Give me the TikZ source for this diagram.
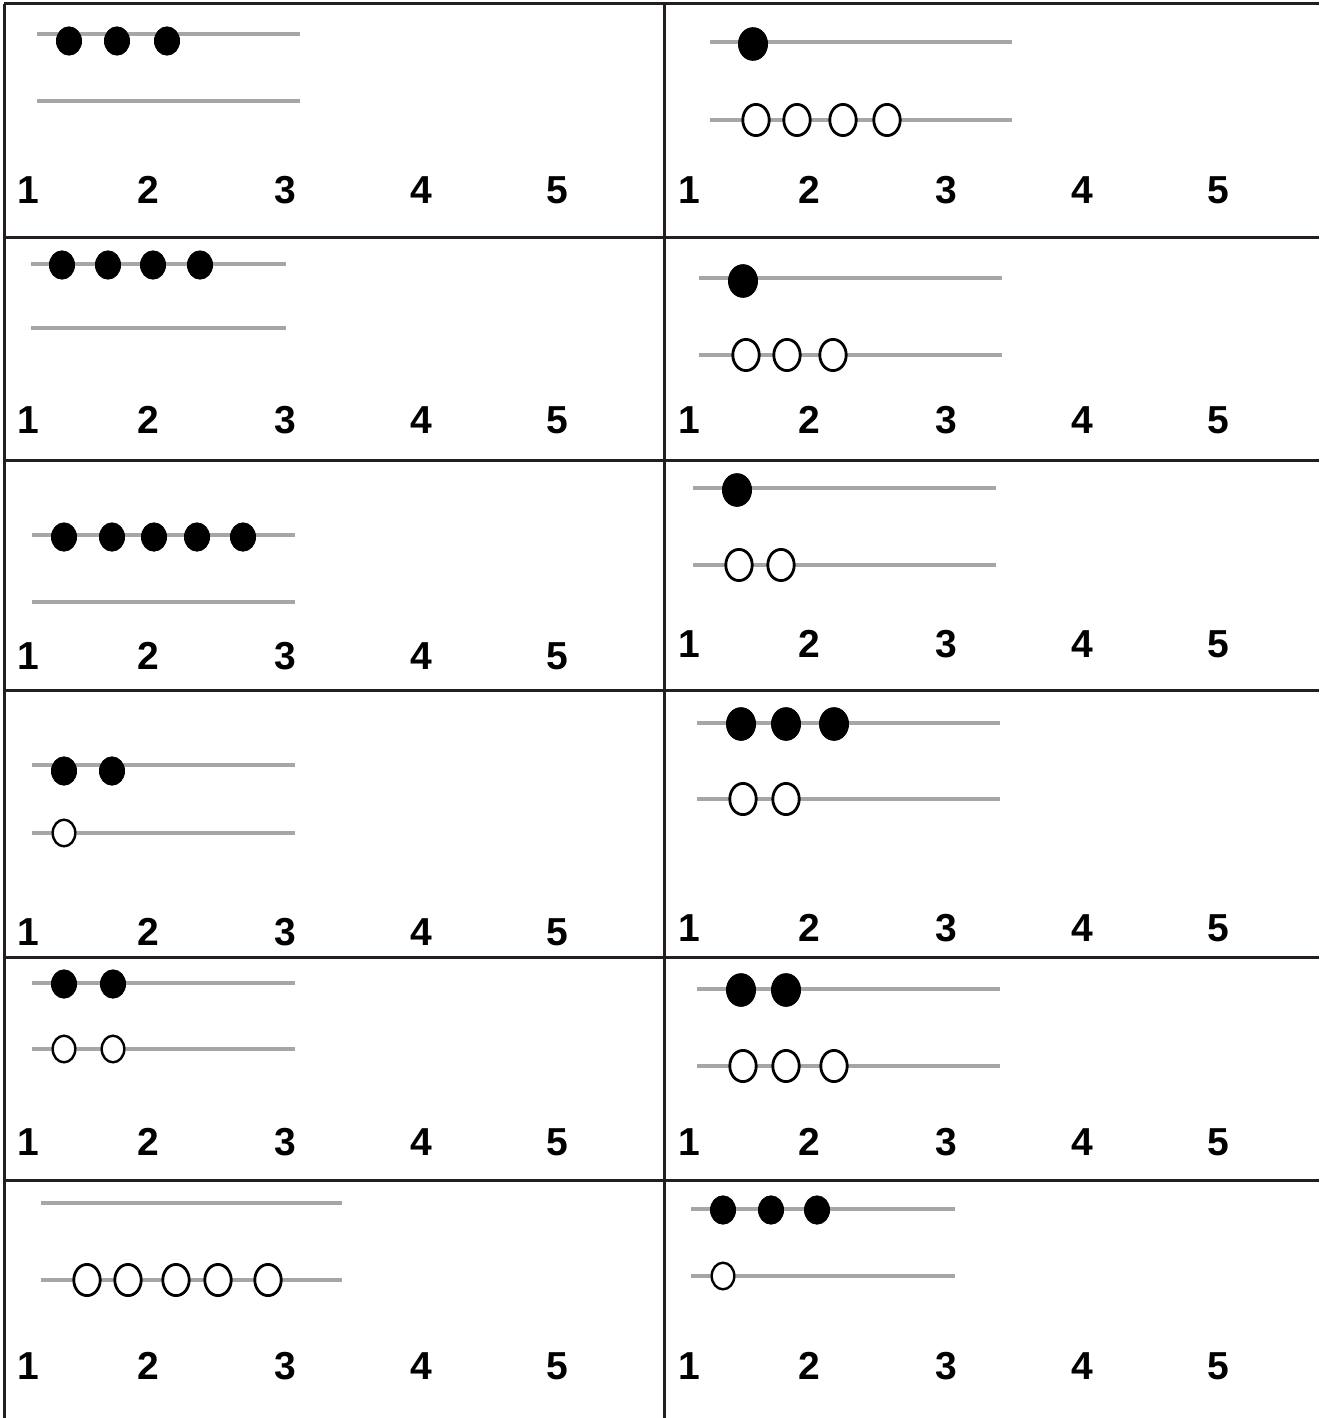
\documentclass[tikz,border=0pt]{standalone}
\usepackage{fontspec}
\setmainfont{Liberation Sans}
\usetikzlibrary{shapes.geometric}
\definecolor{rodgray}{HTML}{A6A6A6}
\definecolor{gridc}{HTML}{231F20}
\newcommand\mynums[3]{\foreach \n/\xx in {1/28,2/148,3/285,4/421,5/557}{\node[num] (#1n\n) at ({\xx+#2},#3) {\n};}}
\begin{document}
\begin{tikzpicture}[x=0.5pt,y=-0.5pt,
  rod/.style={draw=rodgray, line width=2.25pt},
  gridline/.style={draw=gridc, line width=1.5pt},
  fbs/.style={ellipse, fill=black, draw=black, line width=0.4pt, inner sep=0pt, minimum width=12.6pt, minimum height=14.2pt},
  fbl/.style={ellipse, fill=black, draw=black, line width=0.4pt, inner sep=0pt, minimum width=14.6pt, minimum height=16.4pt},
  obs/.style={ellipse, fill=white, draw=black, line width=1.2pt, inner sep=0pt, minimum width=11.3pt, minimum height=13.3pt},
  obl/.style={ellipse, fill=white, draw=black, line width=1.4pt, inner sep=0pt, minimum width=13.2pt, minimum height=15.6pt},
  num/.style={font=\fontsize{19.5}{20}\selectfont\bfseries, inner sep=0pt}]
\useasboundingbox (0,0) rectangle (1319,1418);
% grid
\draw[gridline] (4,4) -- (4,1418);
\draw[gridline] (664,4) -- (664,1418);
\foreach \yy in {4,237,460,690,957,1180}{\draw[gridline] (4,\yy) -- (1319,\yy);}
% Row 1 left
\draw[rod] (37,34) -- (300,34);
\draw[rod] (37,101) -- (300,101);
\foreach \xx [count=\i] in {69,117,167}{\node[fbs] (a1f\i) at (\xx,41) {};}
\mynums{a1}{0}{190}
% Row 1 right
\draw[rod] (710,42) -- (1012,42);
\draw[rod] (710,120) -- (1012,120);
\node[fbl] (b1f1) at (753,44) {};
\foreach \xx [count=\i] in {756,797,843,887}{\node[obl] (b1o\i) at (\xx,120) {};}
\mynums{b1}{661}{190}
% Row 2 left
\draw[rod] (31,264) -- (286,264);
\draw[rod] (31,328) -- (286,328);
\foreach \xx [count=\i] in {62,108,153,200}{\node[fbs] (a2f\i) at (\xx,265) {};}
\mynums{a2}{0}{420}
% Row 2 right
\draw[rod] (699,278) -- (1002,278);
\draw[rod] (699,355) -- (1002,355);
\node[fbl] (b2f1) at (743,281) {};
\foreach \xx [count=\i] in {746,787,833}{\node[obl] (b2o\i) at (\xx,355) {};}
\mynums{b2}{661}{420}
% Row 3 left
\draw[rod] (32,535) -- (295,535);
\draw[rod] (32,602) -- (295,602);
\foreach \xx [count=\i] in {64,112,154,197,243}{\node[fbs] (a3f\i) at (\xx,537) {};}
\mynums{a3}{0}{656}
% Row 3 right
\draw[rod] (693,488) -- (996,488);
\draw[rod] (693,565) -- (996,565);
\node[fbl] (b3f1) at (737,490) {};
\foreach \xx [count=\i] in {739,781}{\node[obl] (b3o\i) at (\xx,565) {};}
\mynums{b3}{661}{644}
% Row 4 left
\draw[rod] (32,765) -- (295,765);
\draw[rod] (32,833) -- (295,833);
\foreach \xx [count=\i] in {64,112}{\node[fbs] (a4f\i) at (\xx,771) {};}
\node[obs] (a4o1) at (64,833) {};
\mynums{a4}{0}{932}
% Row 4 right
\draw[rod] (697,723) -- (1000,723);
\draw[rod] (697,799) -- (1000,799);
\foreach \xx [count=\i] in {741,786,834}{\node[fbl] (b4f\i) at (\xx,724) {};}
\foreach \xx [count=\i] in {743,786}{\node[obl] (b4o\i) at (\xx,799) {};}
\mynums{b4}{661}{928}
% Row 5 left
\draw[rod] (32,983) -- (295,983);
\draw[rod] (32,1049) -- (295,1049);
\foreach \xx [count=\i] in {64,113}{\node[fbs] (a5f\i) at (\xx,984) {};}
\foreach \xx [count=\i] in {64,113}{\node[obs] (a5o\i) at (\xx,1049) {};}
\mynums{a5}{0}{1142}
% Row 5 right
\draw[rod] (697,989) -- (1000,989);
\draw[rod] (697,1066) -- (1000,1066);
\foreach \xx [count=\i] in {741,786}{\node[fbl] (b5f\i) at (\xx,990) {};}
\foreach \xx [count=\i] in {743,786,834}{\node[obl] (b5o\i) at (\xx,1066) {};}
\mynums{b5}{661}{1142}
% Row 6 left
\draw[rod] (41,1203) -- (342,1203);
\draw[rod] (41,1280) -- (342,1280);
\foreach \xx [count=\i] in {87,128,176,218,268}{\node[obl] (a6o\i) at (\xx,1280) {};}
\mynums{a6}{0}{1366}
% Row 6 right
\draw[rod] (691,1209) -- (955,1209);
\draw[rod] (691,1276) -- (955,1276);
\foreach \xx [count=\i] in {723,771,817}{\node[fbs] (b6f\i) at (\xx,1210) {};}
\node[obs] (b6o1) at (723,1276) {};
\mynums{b6}{661}{1366}
\end{tikzpicture}
\end{document}
